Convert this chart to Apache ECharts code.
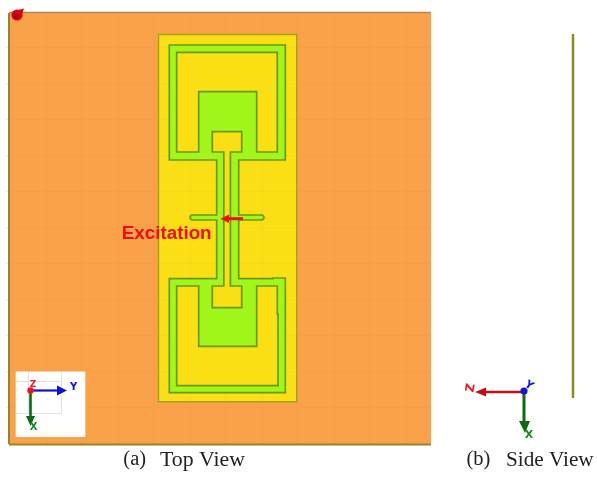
<!DOCTYPE html>
<html><head><meta charset="utf-8">
<style>html,body{margin:0;padding:0;background:#fff}#c{width:597px;height:480px}</style>
<script src="https://cdn.jsdelivr.net/npm/echarts@6/dist/echarts.min.js"></script>
</head><body><div id="c"></div>
<script>
// Drawing coordinates
const substrate = [[9,13],[431,13],[431,444],[9,444]];
const gridXs = [46.5,82,118,154,190,226,262,298,334,370,406];
const gridYs = [47.7,83.7,119.7,155.7,191.7,227.7,263.7,299.7,335.7,371.7,407.7];
const patch = [[158.5,34.5],[296.7,34.5],[296.7,401.7],[158.5,401.7]];
const conductor = [[169.3,45],[285.3,45],[285.3,160],[238.7,160],[238.7,215],[262,215],[263.5,216],[264,217.5],[263.5,219],[262,220],[238.7,220],
  [238.7,278.7],[273,278.7],[273,278],[285.3,278],[285.3,392.7],[169.3,392.7],[169.3,278.7],[216.7,278.7],[216.7,220],[192,220],[190.5,219],[190,217.5],[190.5,216],[192,215],[216.7,215],[216.7,160],[169.3,160]];
const upperGap = [[176.7,52.3],[277.3,52.3],[277.3,152],[256.7,152],[256.7,91.7],[198.7,91.7],[198.7,152],[176.7,152]];
const lowerGap = [[176.7,286],[198.7,286],[198.7,346.3],[256.7,346.3],[256.7,286],[277.3,286],[277.3,314],[278,314],[278,385.7],[176.7,385.7]];
const centreSlot = [[212.3,131.7],[241.7,131.7],[241.7,152],[230.4,152],[230.4,286],[241.7,286],[241.7,307.7],[212.3,307.7],[212.3,286],[223.8,286],[223.8,152],[212.3,152]];
const sideProfile = [[573,34],[573,398]];
const legendBox = [[15.7,371.5],[85.3,371.5],[85.3,437],[15.7,437]];
const legendLines = [[[28.5,371.5],[28.5,413.5]],[[61.5,371.5],[61.5,413.5]],[[15.7,381.5],[61.5,381.5]],[[15.7,413.5],[61.5,413.5]]];
const excitationArrow = [[243,218.7],[228,218.7]];
const excitationHead = [[220.5,218.7],[229,214.5],[229,223]];
const topViewY = [[30.5,390.5],[60,390.5]];
const topViewYHead = [[67,390.5],[57,385.5],[57,395.5]];
const topViewX = [[30.5,390.5],[30.5,420]];
const topViewXHead = [[30.5,426],[26,416],[35,416]];
const sideViewZ = [[523,392],[484,392]];
const sideViewZHead = [[475,392],[486,387.5],[486,396.5]];
const sideViewX = [[524,392],[524,424]];
const sideViewXHead = [[525,433],[519,421],[530,421]];
const originMarks = [[30.5,390.5,3.2,'#f01020'],[17,15,5.6,'#e0000f'],[16,16,2.8,'#a80010'],[524,391,3.6,'#1414d8']];
const markerTip = [[18,10],[24,8.5],[22,14],[17,14]];
const captionParts = [
  {text:'(a)',x:123.3,size:20.5},{text:'Top View',x:160,size:21.8},
  {text:'(b)',x:466.5,size:20.5},{text:'Side View',x:506,size:21.2}];
const excitationLabel = 'Excitation';

function polySeries(polys, fill, stroke, lw, z){
  return {type:'custom',coordinateSystem:'cartesian2d',clip:false,silent:true,z:z,
    data:polys.map((_,i)=>[i,0]),
    renderItem:function(params,api){
      return {type:'polygon',shape:{points:polys[params.dataIndex].map(p=>api.coord(p))},
        style:{fill:fill,stroke:stroke||null,lineWidth:lw||0,lineJoin:'miter'}};
    }};
}
function lineSeries(lines, color, lw, z){
  return {type:'custom',coordinateSystem:'cartesian2d',clip:false,silent:true,z:z,
    data:lines.map((_,i)=>[i,0]),
    renderItem:function(params,api){
      return {type:'polyline',shape:{points:lines[params.dataIndex].map(p=>api.coord(p))},
        style:{fill:null,stroke:color,lineWidth:lw}};
    }};
}
function dotSeries(dots, z){
  return {type:'custom',coordinateSystem:'cartesian2d',clip:false,silent:true,z:z,
    data:dots.map((_,i)=>[i,0]),
    renderItem:function(params,api){
      const d=dots[params.dataIndex],c=api.coord([d[0],d[1]]);
      return {type:'circle',shape:{cx:c[0],cy:c[1],r:d[2]},style:{fill:d[3]}};
    }};
}
function textSeries(items, z){
  return {type:'custom',coordinateSystem:'cartesian2d',clip:false,silent:true,z:z,
    data:items.map((_,i)=>[i,0]),
    renderItem:function(params,api){
      const t=items[params.dataIndex],c=api.coord([t.x,t.y]);
      return {type:'text',x:c[0],y:c[1],rotation:(t.rot||0)*Math.PI/180,
        style:{text:t.text,fill:t.color,font:t.font,textAlign:t.align||'center',textVerticalAlign:'middle'}};
    }};
}
const gridLines = gridXs.map(x=>[[x,13],[x,444]]).concat(gridYs.map(y=>[[9,y],[431,y]]));
const patchLines = gridXs.filter(x=>x>158.5&&x<296.7).map(x=>[[x,35],[x,401]]).concat(gridYs.filter(y=>y>34.5&&y<401.7).map(y=>[[159,y],[296,y]]));
const tickLines = gridXs.map(x=>[[x,445],[x,447]]).concat(gridYs.map(y=>[[6,y],[8,y]]));

const chart = echarts.init(document.getElementById('c'));
chart.setOption({
  animation:false,backgroundColor:'#fff',
  grid:{left:0,right:0,top:0,bottom:0},
  xAxis:{type:'value',min:0,max:597,show:false},
  yAxis:{type:'value',min:0,max:480,inverse:true,show:false},
  series:[
    polySeries([substrate],'#faa24a',null,0,1),
    lineSeries(gridLines,'#f69d46',1,2),
    lineSeries(tickLines,'#e6e6e6',1,2),
    lineSeries([[[9,12.5],[431,12.5]]],'#b5864e',1.5,3),
    lineSeries([[[9,13],[9,444]],[[9,444.5],[431,444.5]]],'#98832a',2,3),
    polySeries([patch],'#f9df14','#a8a020',1.4,4),
    lineSeries(patchLines,'#f6d51c',1,4),
    polySeries([conductor],'#a1f61a','#6a9a12',1.7,5),
    polySeries([upperGap,lowerGap,centreSlot],'#f9df14','#6a9a12',1.7,6),
    lineSeries([sideProfile],'#8f8a22',2.5,4),
    polySeries([legendBox],'#ffffff',null,0,7),
    lineSeries(legendLines,'#e2e2e2',1,8),
    lineSeries([topViewY],'#1010d0',2.2,9),
    polySeries([topViewYHead],'#1010d0',null,0,9),
    lineSeries([topViewX],'#0b6a12',2.6,9),
    polySeries([topViewXHead],'#0b6a12',null,0,9),
    lineSeries([excitationArrow],'#f0101a',3,9),
    polySeries([excitationHead],'#f0101a',null,0,9),
    lineSeries([sideViewZ],'#c80f18',2.6,9),
    polySeries([sideViewZHead],'#c80f18',null,0,9),
    lineSeries([sideViewX],'#0b6a12',3,9),
    polySeries([sideViewXHead],'#0b6a12',null,0,9),
    polySeries([markerTip],'#e0000f',null,0,10),
    dotSeries(originMarks,10),
    textSeries([
      {text:excitationLabel,x:166.7,y:234,color:'#f00d12',font:'bold 18.8px "Liberation Sans"'}
    ].concat(captionParts.map(c=>({text:c.text,x:c.x,y:460,color:'#222',font:c.size+'px "Liberation Serif"',align:'left'}))).concat([
      {text:'Y',x:73.5,y:387,color:'#1515e0',font:'bold 10px "DejaVu Sans"'},
      {text:'Z',x:33,y:385,color:'#f01824',font:'bold 9px "DejaVu Sans"'},
      {text:'X',x:33.5,y:427.5,color:'#128a20',font:'bold 10px "DejaVu Sans"'},
      {text:'Z',x:471,y:388,color:'#f01824',font:'bold 12px "DejaVu Sans"',rot:80},
      {text:'Y',x:529,y:385.5,color:'#1515e0',font:'bold 11px "DejaVu Sans"',rot:-35},
      {text:'X',x:529,y:435,color:'#128a20',font:'bold 11px "DejaVu Sans"'}
    ]),11)
  ]
});
</script></body></html>
